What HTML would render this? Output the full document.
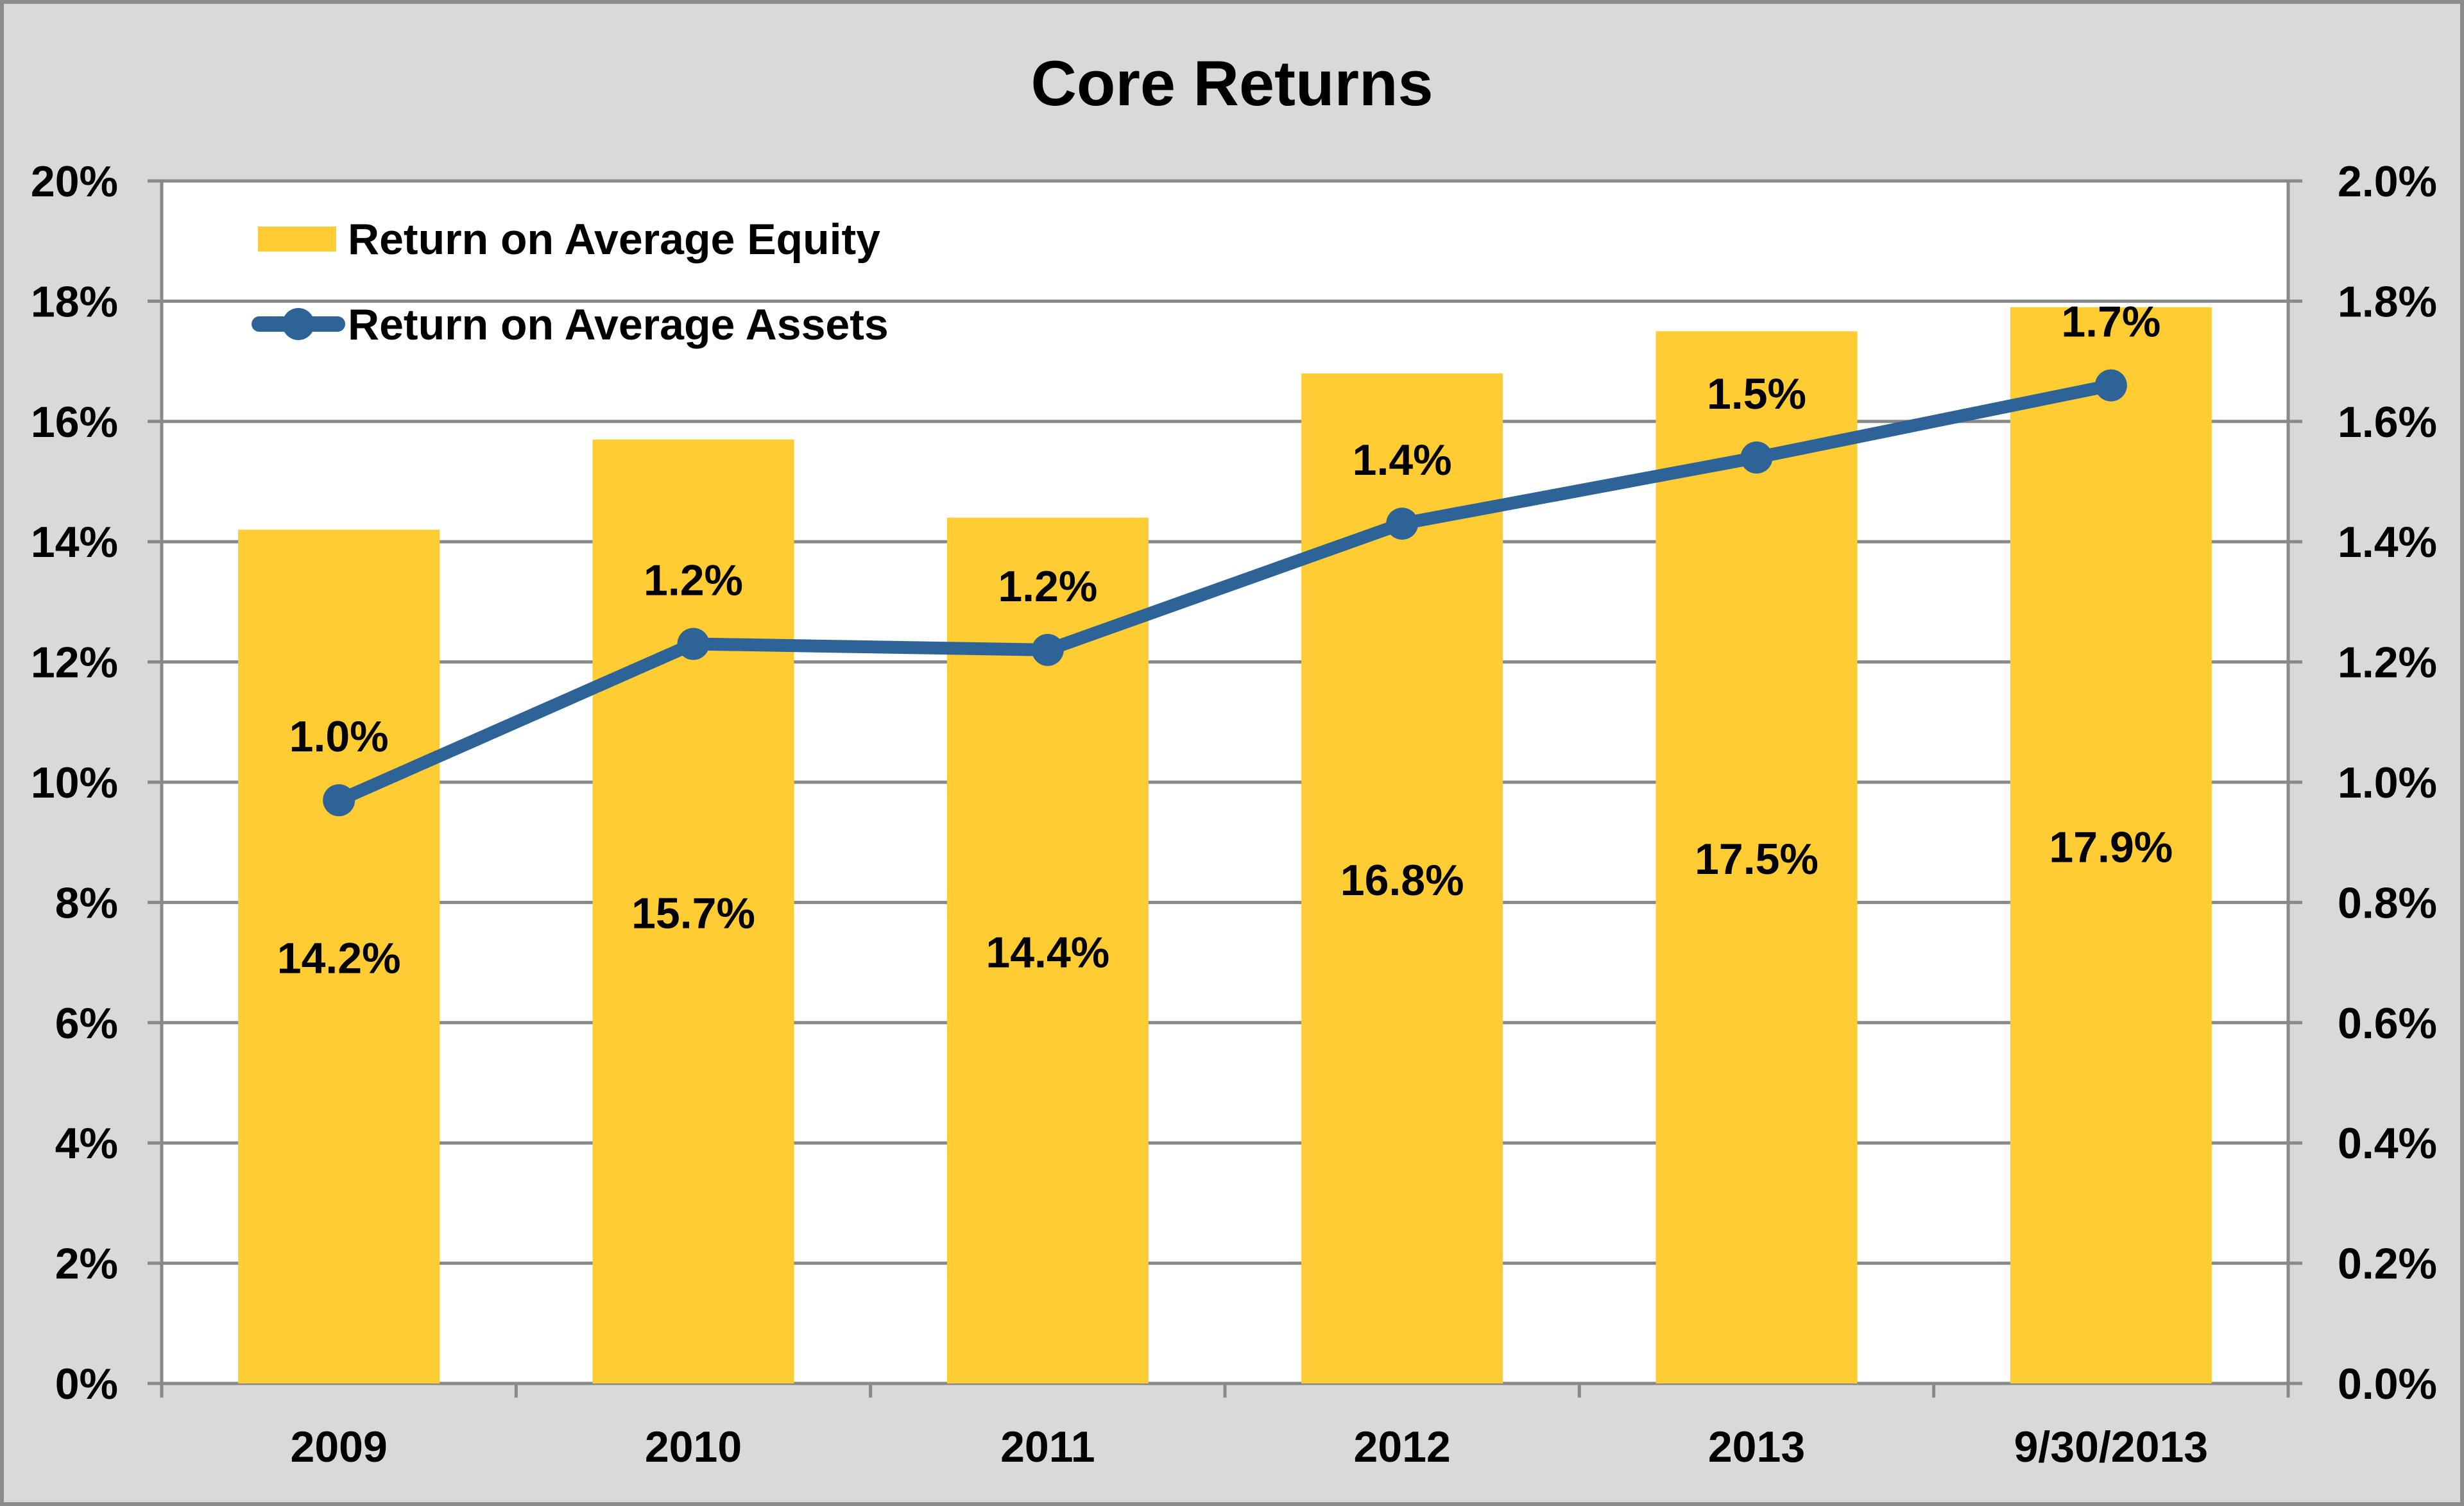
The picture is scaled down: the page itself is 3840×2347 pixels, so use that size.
<!DOCTYPE html>
<html><head><meta charset="utf-8"><style>
html,body{margin:0;padding:0;background:#d9d9d9;}
svg{display:block;}
text{font-family:"Liberation Sans",sans-serif;font-weight:bold;fill:#000;}
</style></head><body>
<svg id="chart" width="3840" height="2347" viewBox="0 0 3840 2347">
<rect x="3" y="3" width="3834" height="2341" fill="#d9d9d9" stroke="#8c8c8c" stroke-width="6"/>
<text x="1920" y="164" font-size="99" text-anchor="middle">Core Returns</text>
<rect x="252" y="282" width="3314" height="1874" fill="#ffffff"/>
<g id="grid"></g><g id="bars"></g><g id="line"></g><g id="labels"></g><g id="axes"></g>
<g>
<rect x="402" y="353" width="122" height="39" fill="#ffcc33"/>
<text x="542" y="396" font-size="68">Return on Average Equity</text>
<line x1="404" y1="505" x2="526" y2="505" stroke="#2e6398" stroke-width="24" stroke-linecap="round"/>
<circle cx="465" cy="505" r="25" fill="#2e6398"/>
<text x="542" y="529" font-size="68">Return on Average Assets</text>
</g>
</svg>
<script>
const categories = ["2009","2010","2011","2012","2013","9/30/2013"];
const equityValues = [14.2,15.7,14.4,16.8,17.5,17.9];
const assetValues = [0.97,1.23,1.22,1.43,1.54,1.66];
const assetLabels = ["1.0%","1.2%","1.2%","1.4%","1.5%","1.7%"];
const leftTicks = ["0%","2%","4%","6%","8%","10%","12%","14%","16%","18%","20%"];
const rightTicks = ["0.0%","0.2%","0.4%","0.6%","0.8%","1.0%","1.2%","1.4%","1.6%","1.8%","2.0%"];

const NS = "http://www.w3.org/2000/svg";
const L=252,R=3566,T=282,B=2156;
const band=(R-L)/categories.length;
const xc=i=>L+band*(i+0.5);
const yL=v=>B-(v/20)*(B-T);
const yR=v=>B-(v/2)*(B-T);
function mk(tag,attrs,parent,txt){const e=document.createElementNS(NS,tag);for(const k in attrs)e.setAttribute(k,attrs[k]);if(txt!==undefined)e.textContent=txt;document.getElementById(parent).appendChild(e);return e;}

leftTicks.forEach((t,i)=>{
  const y=B-i*(B-T)/(leftTicks.length-1);
  let g=mk("line",{x1:L-22,x2:R+22,y1:y,y2:y,stroke:"#898989","stroke-width":5},"grid");
  
  
  let a=mk("text",{x:184,y:y+24,"font-size":68,"text-anchor":"end"},"axes",t);
  
  
  let b=mk("text",{x:3798,y:y+24,"font-size":68,"text-anchor":"end"},"axes",rightTicks[i]);
  
  
});
let ax=mk("line",{x1:L,x2:L,y1:T,y2:B+22,stroke:"#898989","stroke-width":5},"axes");


let ax2=mk("line",{x1:R,x2:R,y1:T,y2:B+22,stroke:"#898989","stroke-width":5},"axes");


for(let i=1;i<categories.length;i++){
  let t=mk("line",{x1:L+band*i,x2:L+band*i,y1:B,y2:B+22,stroke:"#898989","stroke-width":5},"axes");
  
  
}
const bw=314;
categories.forEach((c,i)=>{
  let r=mk("rect",{x:xc(i)-bw/2,y:yL(equityValues[i]),width:bw,height:B-yL(equityValues[i]),fill:"#ffcc33"},"bars");
  
  
  let lb=mk("text",{x:xc(i),y:(yL(equityValues[i])+B)/2+26,"font-size":68,"text-anchor":"middle"},"labels",equityValues[i].toFixed(1)+"%");
  
  
  let xl=mk("text",{x:xc(i),y:2278,"font-size":68,"text-anchor":"middle"},"axes",c);
  
  
});
const pts=assetValues.map((v,i)=>xc(i)+","+yR(v)).join(" ");
let pl=mk("polyline",{points:pts,fill:"none",stroke:"#2e6398","stroke-width":20,"stroke-linejoin":"round"},"line");


assetValues.forEach((v,i)=>{
  let c=mk("circle",{cx:xc(i),cy:yR(v),r:25,fill:"#2e6398"},"line");
  
  
  let t=mk("text",{x:xc(i),y:yR(v)-76,"font-size":68,"text-anchor":"middle"},"labels",assetLabels[i]);
  
  
});
</script>
</body></html>
